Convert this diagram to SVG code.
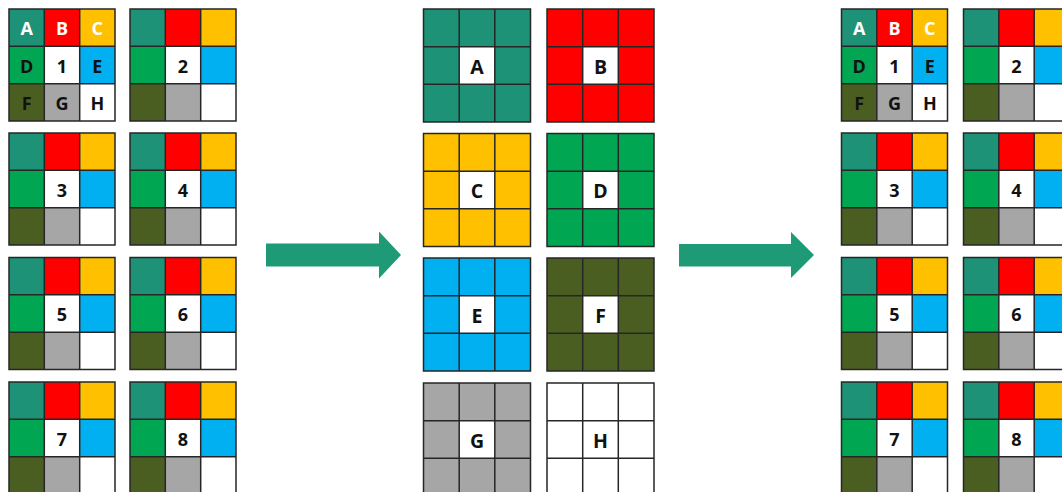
<svg xmlns="http://www.w3.org/2000/svg" xmlns:xlink="http://www.w3.org/1999/xlink" width="1062" height="492" viewBox="0 0 1062 492">
<style>
.g{stroke:#262626;stroke-width:1.5;fill:none}
.t{font-family:"Open Sans","Liberation Sans",Arial,sans-serif;font-weight:bold;font-size:18px;text-anchor:middle}
.tm{font-family:"Open Sans","Liberation Sans",Arial,sans-serif;font-weight:bold;font-size:19.5px;text-anchor:middle;fill:#111}
.w{fill:#ffffff}
.k{fill:#111111}
.arrow{fill:#1F9A76}
</style>
<defs>
<g id="small">
<rect x="0" y="0" width="35.3" height="37.3" fill="#1E9276"/>
<rect x="35.3" y="0" width="35.4" height="37.3" fill="#FF0000"/>
<rect x="70.7" y="0" width="35.3" height="37.3" fill="#FFC000"/>
<rect x="0" y="37.3" width="35.3" height="37.4" fill="#00A651"/>
<rect x="35.3" y="37.3" width="35.4" height="37.4" fill="#FFFFFF"/>
<rect x="70.7" y="37.3" width="35.3" height="37.4" fill="#00B0F0"/>
<rect x="0" y="74.7" width="35.3" height="37.3" fill="#4B5E22"/>
<rect x="35.3" y="74.7" width="35.4" height="37.3" fill="#A6A6A6"/>
<rect x="70.7" y="74.7" width="35.3" height="37.3" fill="#FFFFFF"/>
<path class="g" d="M0,0H106V112H0Z M35.3,0V112 M70.7,0V112 M0,37.3H106 M0,74.7H106"/>
</g>
<path id="bgrid" class="g" d="M0,0H107V113H0Z M35.7,0V113 M71.3,0V113 M0,37.7H107 M0,75.3H107"/>
<path id="ring" d="M0,0H107V113H0Z M35.7,37.7V75.3H71.3V37.7Z" fill-rule="evenodd"/>
</defs>

<g id="left">
<g id="L1" transform="translate(9,9)"><use xlink:href="#small"/>
<text class="t w" x="17.7" y="26">A</text><text class="t w" x="53" y="26">B</text><text class="t w" x="88.3" y="26">C</text>
<text class="t k" x="17.7" y="63.5">D</text><text class="t k" x="53" y="63.5">1</text><text class="t k" x="88.3" y="63.5">E</text>
<text class="t k" x="17.7" y="101">F</text><text class="t k" x="53" y="101">G</text><text class="t k" x="88.3" y="101">H</text></g>
<g id="L2" transform="translate(130,9)"><use xlink:href="#small"/><text class="t k" x="53" y="63.5">2</text></g>
<g id="L3" transform="translate(9,133)"><use xlink:href="#small"/><text class="t k" x="53" y="63.5">3</text></g>
<g id="L4" transform="translate(130,133)"><use xlink:href="#small"/><text class="t k" x="53" y="63.5">4</text></g>
<g id="L5" transform="translate(9,257.5)"><use xlink:href="#small"/><text class="t k" x="53" y="63.5">5</text></g>
<g id="L6" transform="translate(130,257.5)"><use xlink:href="#small"/><text class="t k" x="53" y="63.5">6</text></g>
<g id="L7" transform="translate(9,382)"><use xlink:href="#small"/><text class="t k" x="53" y="63.5">7</text></g>
<g id="L8" transform="translate(130,382)"><use xlink:href="#small"/><text class="t k" x="53" y="63.5">8</text></g>
</g>

<g id="middle">
<g id="MA" transform="translate(423.5,9)"><use xlink:href="#ring" fill="#1E9276"/><use xlink:href="#bgrid"/><text class="tm" x="53.5" y="64.5">A</text></g>
<g id="MB" transform="translate(547,9)"><use xlink:href="#ring" fill="#FF0000"/><use xlink:href="#bgrid"/><text class="tm" x="53.5" y="64.5">B</text></g>
<g id="MC" transform="translate(423.5,133.5)"><use xlink:href="#ring" fill="#FFC000"/><use xlink:href="#bgrid"/><text class="tm" x="53.5" y="64.5">C</text></g>
<g id="MD" transform="translate(547,133.5)"><use xlink:href="#ring" fill="#00A651"/><use xlink:href="#bgrid"/><text class="tm" x="53.5" y="64.5">D</text></g>
<g id="ME" transform="translate(423.5,258)"><use xlink:href="#ring" fill="#00B0F0"/><use xlink:href="#bgrid"/><text class="tm" x="53.5" y="64.5">E</text></g>
<g id="MF" transform="translate(547,258)"><use xlink:href="#ring" fill="#4B5E22"/><use xlink:href="#bgrid"/><text class="tm" x="53.5" y="64.5">F</text></g>
<g id="MG" transform="translate(423.5,383)"><use xlink:href="#ring" fill="#A6A6A6"/><use xlink:href="#bgrid"/><text class="tm" x="53.5" y="64.5">G</text></g>
<g id="MH" transform="translate(547,383)"><use xlink:href="#ring" fill="#FFFFFF"/><use xlink:href="#bgrid"/><text class="tm" x="53.5" y="64.5">H</text></g>
</g>

<g id="right">
<g id="R1" transform="translate(841.5,9)"><use xlink:href="#small"/>
<text class="t w" x="17.7" y="26">A</text><text class="t w" x="53" y="26">B</text><text class="t w" x="88.3" y="26">C</text>
<text class="t k" x="17.7" y="63.5">D</text><text class="t k" x="53" y="63.5">1</text><text class="t k" x="88.3" y="63.5">E</text>
<text class="t k" x="17.7" y="101">F</text><text class="t k" x="53" y="101">G</text><text class="t k" x="88.3" y="101">H</text></g>
<g id="R2" transform="translate(963.5,9)"><use xlink:href="#small"/><text class="t k" x="53" y="63.5">2</text></g>
<g id="R3" transform="translate(841.5,133)"><use xlink:href="#small"/><text class="t k" x="53" y="63.5">3</text></g>
<g id="R4" transform="translate(963.5,133)"><use xlink:href="#small"/><text class="t k" x="53" y="63.5">4</text></g>
<g id="R5" transform="translate(841.5,257.5)"><use xlink:href="#small"/><text class="t k" x="53" y="63.5">5</text></g>
<g id="R6" transform="translate(963.5,257.5)"><use xlink:href="#small"/><text class="t k" x="53" y="63.5">6</text></g>
<g id="R7" transform="translate(841.5,382)"><use xlink:href="#small"/><text class="t k" x="53" y="63.5">7</text></g>
<g id="R8" transform="translate(963.5,382)"><use xlink:href="#small"/><text class="t k" x="53" y="63.5">8</text></g>
</g>

<g id="connectors">
<path class="arrow" d="M266,243.5H379V231.5L401,255L379,278.5V266.5H266Z"/>
<path class="arrow" d="M679,244H791V232L814,255L791,278V266.5H679Z"/>
</g>
</svg>
